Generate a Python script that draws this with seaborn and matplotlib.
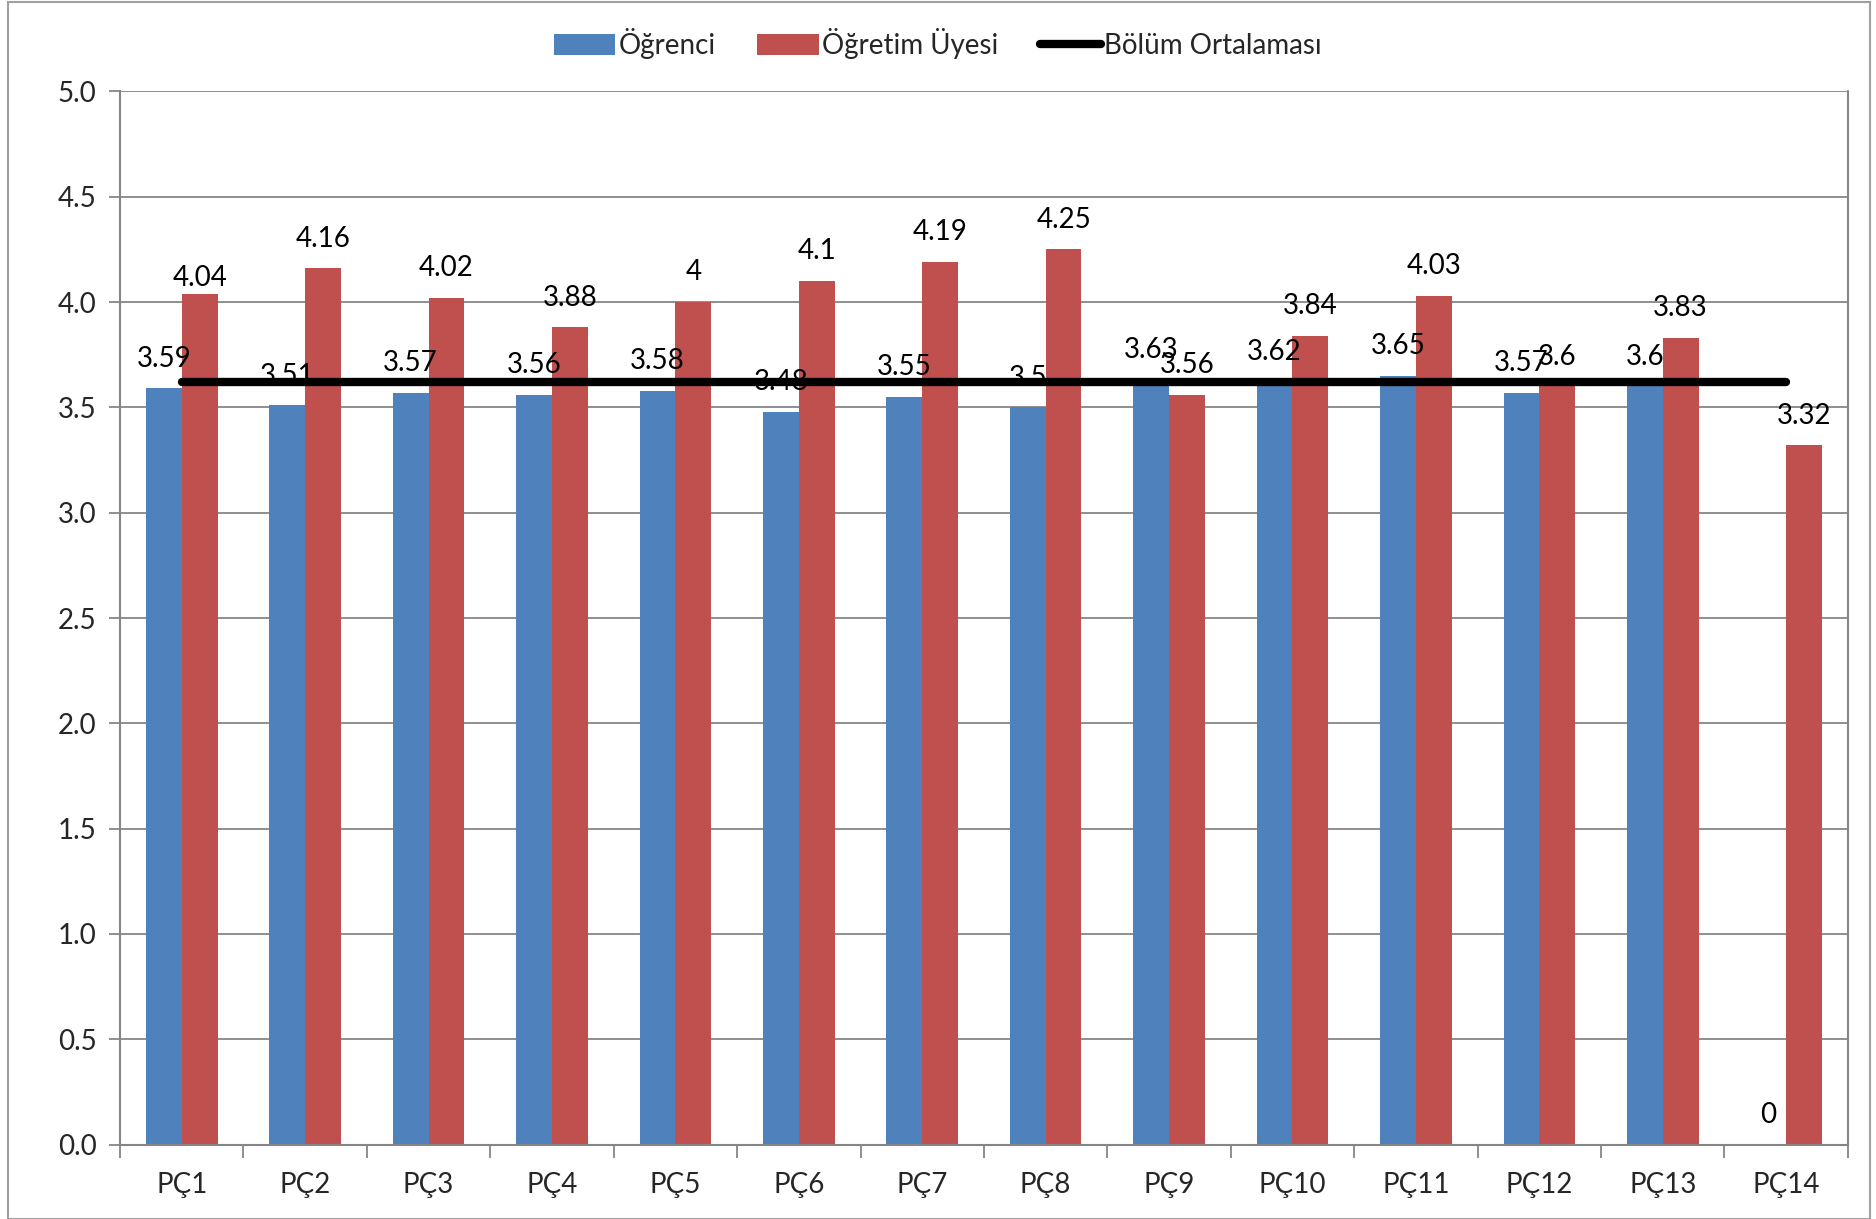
import matplotlib
matplotlib.use("Agg")
import matplotlib.pyplot as plt
import seaborn as sns
import pandas as pd
import numpy as np
from matplotlib.patches import Patch, Rectangle
from matplotlib.lines import Line2D
from matplotlib.ticker import FormatStrFormatter, FixedLocator

categories = ["PÇ1", "PÇ2", "PÇ3", "PÇ4", "PÇ5", "PÇ6", "PÇ7", "PÇ8", "PÇ9",
              "PÇ10", "PÇ11", "PÇ12", "PÇ13", "PÇ14"]
ogrenci = [3.59, 3.51, 3.57, 3.56, 3.58, 3.48, 3.55, 3.5, 3.63, 3.62, 3.65, 3.57, 3.6, 0]
ogretim_uyesi = [4.04, 4.16, 4.02, 3.88, 4, 4.1, 4.19, 4.25, 3.56, 3.84, 4.03, 3.6, 3.83, 3.32]
bolum_ortalamasi = [3.62, 3.62, 3.62, 3.62, 3.62, 3.62, 3.62, 3.62, 3.62, 3.62, 3.62, 3.62, 3.62, 3.62]
series_names = ["Öğrenci", "Öğretim Üyesi", "Bölüm Ortalaması"]
y_ticks = [0.0, 0.5, 1.0, 1.5, 2.0, 2.5, 3.0, 3.5, 4.0, 4.5, 5.0]

sns.set_theme(style="white")
plt.rcParams['font.family'] = ['Lato', 'DejaVu Sans']

BLUE = "#4F81BD"
RED = "#C0504D"
GRAY = "#868686"
FS = 20

df = pd.DataFrame({
    "PÇ": categories * 2,
    "Değer": ogrenci + ogretim_uyesi,
    "Seri": [series_names[0]] * len(categories) + [series_names[1]] * len(categories),
})

fig = plt.figure(figsize=(18.76, 12.19), dpi=100)
ax = fig.add_axes([0.064, 0.061, 0.921, 0.864])

sns.barplot(data=df, x="PÇ", y="Değer", hue="Seri", order=categories,
            hue_order=series_names[:2], palette=[BLUE, RED], width=0.58,
            gap=0, saturation=1, edgecolor="none", linewidth=0, ax=ax,
            legend=False)

xpos = np.arange(len(categories))
ax.plot(xpos, bolum_ortalamasi, color="black", linewidth=6,
        solid_capstyle="round", zorder=5)

for i, cont in enumerate(ax.containers):
    texts = ax.bar_label(cont, labels=[f"{v:g}" for v in cont.datavalues],
                         padding=12, fontsize=FS, color="black", zorder=6)
    if i == 1:
        # first lecturer label sits lower in the original
        texts[0].xyann = (texts[0].xyann[0], 2)

ax.set_ylim(0, 5.0)
ax.set_xlim(-0.5, len(categories) - 0.5)
ax.yaxis.set_major_locator(FixedLocator(y_ticks))
ax.yaxis.set_major_formatter(FormatStrFormatter("%.1f"))
ax.grid(axis="y", color=GRAY, linewidth=1.3, zorder=0)
ax.set_axisbelow(True)
ax.set_xlabel("")
ax.set_ylabel("")

for s in ["top", "right"]:
    ax.spines[s].set_visible(False)
for s in ["left", "bottom"]:
    ax.spines[s].set_color(GRAY)
    ax.spines[s].set_linewidth(1.5)
ax.plot([1, 1], [0, 1], transform=ax.transAxes, color=GRAY, lw=1.5, clip_on=False)

ax.tick_params(axis="y", which="major", length=8, width=1.3, color=GRAY,
               labelsize=FS, pad=9, left=True, direction="out")
ax.tick_params(axis="x", which="major", length=0, labelsize=FS, pad=20)
ax.set_xticks(np.arange(-0.5, len(categories), 1.0), minor=True)
ax.tick_params(axis="x", which="minor", length=9, width=1.3, color=GRAY,
               bottom=True, direction="out")

handles = [Patch(facecolor=BLUE, edgecolor="none"),
           Patch(facecolor=RED, edgecolor="none"),
           Line2D([0], [0], color="black", linewidth=6)]
fig.legend(handles, series_names, loc="center", bbox_to_anchor=(0.5, 0.964),
           ncol=3, frameon=False, fontsize=FS, handlelength=2.2,
           handleheight=0.8, handletextpad=0.12, columnspacing=1.5)

fig.patches.append(Rectangle((0.004, 0.0), 0.993, 0.998, transform=fig.transFigure,
                             fill=False, edgecolor="#A0A0A0", linewidth=1.5))

fig.savefig("out.png", dpi=100, facecolor="white")
